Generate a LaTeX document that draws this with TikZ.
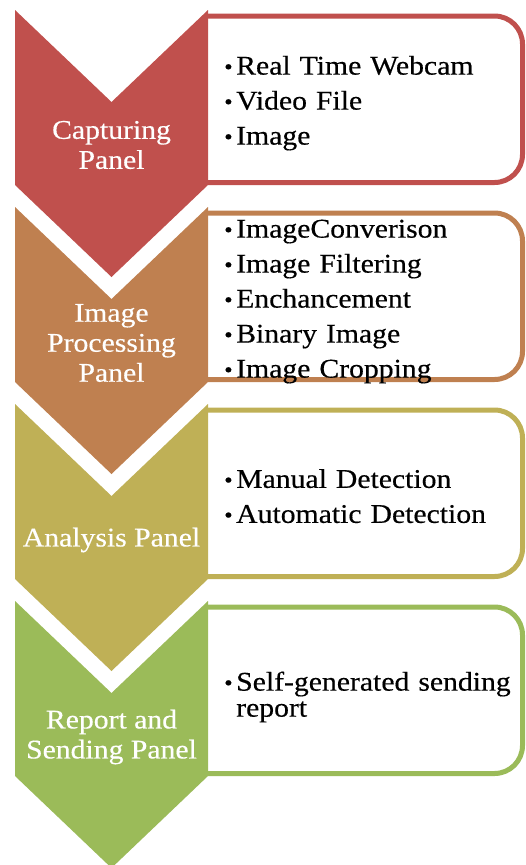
\documentclass[tikz,border=0pt]{standalone}
\usepackage{fontspec}
\setmainfont[FakeStretch=1.1,FakeBold=0.4]{Liberation Serif}

\definecolor{capred}{HTML}{C0504D}
\definecolor{procbrown}{HTML}{BF8050}
\definecolor{anaolive}{HTML}{BFB056}
\definecolor{repgreen}{HTML}{9BBB59}

% one chevron: #1 top edge, #2 colour
\newcommand{\chevron}[2]{%
  \fill[#2] (15,#1) -- (111.5,#1+92) -- (208,#1) -- (208,#1+175) -- (111.5,#1+267) -- (15,#1+175) -- cycle;}
% list frame with rounded right side: #1 top edge, #2 colour
\newcommand{\listframe}[2]{%
  \draw[#2,line width=5pt,fill=white] (208,#1+6) [rounded corners=28pt] -- (522.5,#1+6) -- (522.5,#1+172.5) -- (208,#1+172.5);}
% one bullet item
\newcommand{\bitem}[1]{\par\noindent\hangindent=12pt\hangafter=1\makebox[12pt][l]{\raisebox{0.5pt}{\fontsize{22}{22}\selectfont\textbullet}}#1\par}

\begin{document}
\begin{tikzpicture}[
    x=1pt,y=-1pt,
    panel/.style={text=white,align=center,inner sep=0pt,font=\fontsize{27}{30}\selectfont},
    listbox/.style={anchor=west,text width=295pt,align=left,inner sep=0pt,
      font=\fontsize{27}{26}\selectfont\setlength{\parskip}{9pt}}
]
\useasboundingbox (0,0) rectangle (525,865);

\listframe{10}{capred}
\listframe{207}{procbrown}
\listframe{404}{anaolive}
\listframe{601}{repgreen}

\chevron{10}{capred}
\chevron{207}{procbrown}
\chevron{404}{anaolive}
\chevron{601}{repgreen}

\node[panel] (capture) at (111.5,145) {Capturing\\Panel};
\node[panel] (process) at (111.5,343) {Image\\Processing\\Panel};
\node[panel] (analysis) at (111.5,540) {Analysis Panel};
\node[panel] (report) at (111.5,737) {Report and\\Sending Panel};

\node[listbox] (captureList) at (224,95) {\bitem{Real Time Webcam}\bitem{Video File}\bitem{Image}};
\node[listbox] (processList) at (224,293) {\bitem{ImageConverison}\bitem{Image Filtering}\bitem{Enchancement}\bitem{Binary Image}\bitem{Image Cropping}};
\node[listbox] (analysisList) at (224,488) {\bitem{Manual Detection}\bitem{Automatic Detection}};
\node[listbox] (reportList) at (224,689) {\bitem{Self-generated sending report}};
\end{tikzpicture}
\end{document}
